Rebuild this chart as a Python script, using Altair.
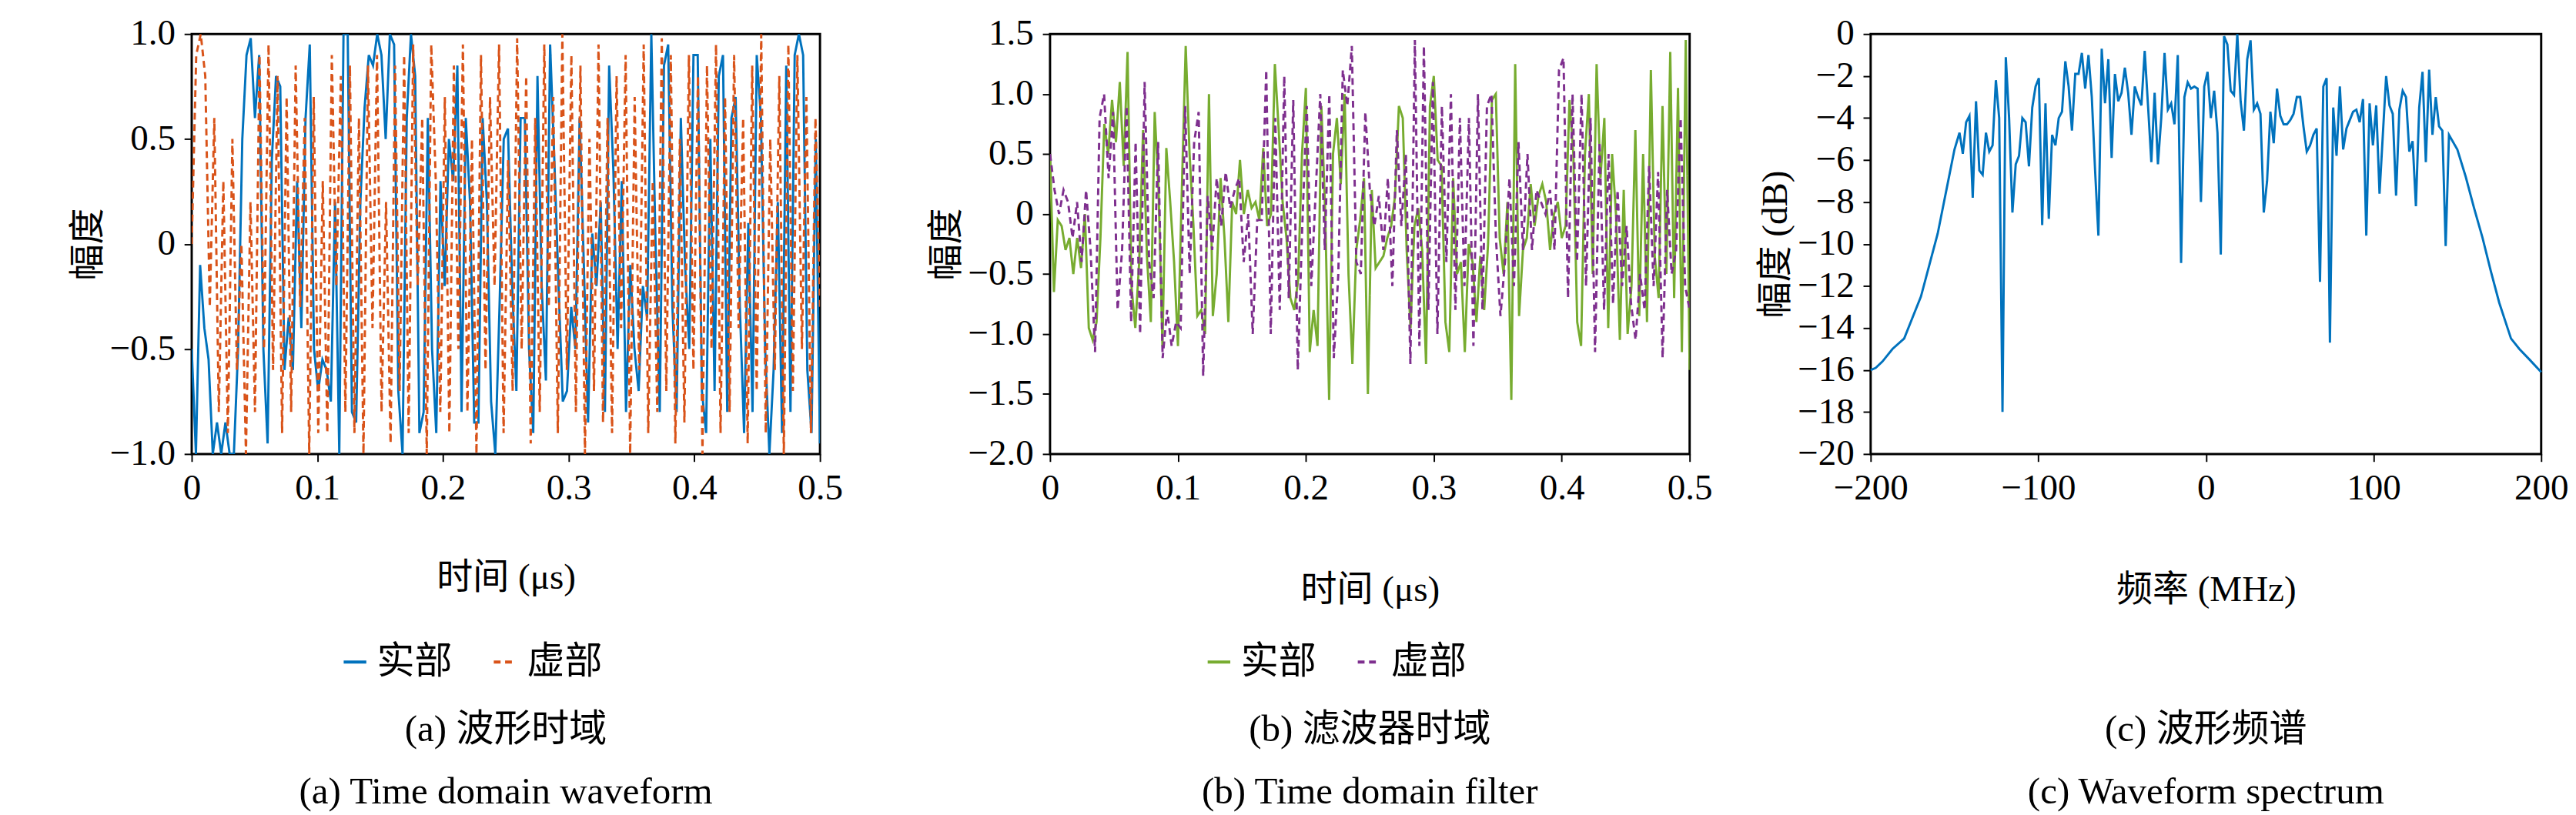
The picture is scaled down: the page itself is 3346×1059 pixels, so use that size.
import altair as alt
import numpy as np
import pandas as pd

# (a) waveform, time in microseconds
wave_real = [-0.5, -1.0, -0.1, -0.4, -0.55, -1.0, -0.85, -1.0, -0.85, -1.0, -1.0, -0.5, 0.5, 0.9, 0.98,
             0.6, 0.9, -0.5, -0.95, 0.4, 0.8, 0.75, -0.6, -0.35, -0.6, 0.3, -0.4, 0.6, 0.95, -0.5, -0.7,
             -0.55, -0.6, -0.75, 0.2, -1.0, 1.0, 1.0, -0.8, -0.85, 0.2, 0.65, 0.9, 0.85, 1.0, 0.9, 0.5,
             1.0, 0.95, -0.7, -1.0, 0.6, 1.0, 0.8, -0.9, -0.8, 0.6, -0.5, -0.9, 0.3, -0.2, 0.5, 0.3, 0.85,
             -0.8, 0.6, 0.2, -0.85, -0.85, 0.6, 0.2, -0.75, -1.0, -0.3, 0.5, 0.55, -0.2, -0.7, 0.6, 0.6,
             -0.5, -0.9, 0.8, -0.2, -0.65, 0.95, 0.4, -0.2, -0.75, -0.7, -0.3, -0.5, 0.6, -0.1, -0.85,
             0.05, -0.2, 0.2, -0.8, 0.85, 0.35, -0.5, 0.3, -0.8, -0.1, -0.5, -0.7, -0.2, -0.35, 1.0, 0.0,
             -0.8, 0.85, 0.95, -0.3, -0.8, 0.6, -0.1, -0.5, 0.9, 0.9, -0.7, -0.9, 0.5, -0.7, 0.8, 0.9,
             -0.8, 0.6, 0.7, -0.3, -0.9, 0.1, -0.8, 0.9, 0.6, -0.5, -1.0, -0.6, 0.2, -0.9, 0.85, -0.8,
             0.9, 1.0, 0.9, -0.6, -0.9, 0.5, -0.95]
wave_imag = [0.0, 0.9, 1.0, 0.8, -0.3, 0.6, -0.8, 0.3, -0.9, 0.5, -0.6, 0.0, -1.0, 0.2, -0.8, 0.9, -0.5,
             0.95, -0.6, 0.8, -0.9, 0.7, -0.8, 0.85, -0.3, 0.6, -1.0, 0.7, -0.9, 0.3, -0.9, 0.9, -0.2,
             0.8, -0.8, 0.85, -0.9, 0.6, -1.0, 0.85, -0.4, 0.9, -0.8, 0.2, -0.95, 0.85, -0.7, 0.9, -0.9,
             0.95, -0.2, 0.6, -1.0, 0.95, 0.3, -0.8, 0.7, -0.9, 0.85, -0.5, 0.95, -0.8, 0.5, -1.0, 0.9,
             -0.6, 0.7, -0.2, 0.95, -0.9, 0.4, -0.7, 0.98, -0.5, 0.8, -0.95, 0.6, -0.8, 0.95, -0.3, 0.7,
             -0.9, 1.0, -0.6, 0.9, -0.8, 0.85, -1.0, 0.5, -0.7, 0.95, -0.85, 0.6, -0.9, 0.8, -0.4, 0.9,
             -1.0, 0.7, -0.6, 0.95, -0.9, 0.3, -0.8, 0.98, -0.7, 0.9, -0.95, 0.5, -0.85, 0.9, -0.6, 0.8,
             -1.0, 0.85, -0.5, 0.95, -0.9, 0.7, -0.8, 0.9, -0.4, 0.6, -0.95, 0.85, -0.7, 1.0, -0.9, 0.5,
             -0.6, 0.8, -1.0, 0.95, -0.7, 0.9, -0.5, 0.7, -0.9, 0.6, -0.3]

# (b) filter
filt_real = [0.5, -0.65, -0.05, -0.1, -0.3, -0.2, -0.5, -0.2, -0.45, 0.0, -0.95, -1.05, -0.9, -0.2, 0.75,
             0.5, 0.95, 0.6, 1.1, 0.4, 1.35, -0.6, -0.95, -0.4, 0.7, -0.35, -0.9, 0.85, 0.2, -1.1, 0.55,
             0.1, -0.4, -1.1, 0.2, 1.4, 0.5, -0.1, -0.85, -0.8, -1.0, 1.0, -0.85, -0.5, 0.3, -0.2, -0.9,
             0.1, 0.0, 0.45, 0.0, 0.2, 0.05, 0.1, -0.05, 0.55, -0.1, 0.0, 1.25, 0.7, 0.1, -0.2, -0.7,
             -0.8, -0.55, 0.5, 1.05, -1.15, -0.8, -1.1, 0.9, 0.0, -1.55, 0.5, 0.8, 0.25, 1.0, -0.5, -1.25,
             -0.3, -0.05, 0.3, -1.5, 0.2, -0.45, -0.4, -0.35, -0.2, -0.1, 0.15, 0.9, 0.8, -0.3, -0.95,
             -0.1, 0.05, -0.3, -1.25, 0.9, 1.15, 0.45, 0.4, -0.9, -1.15, 0.3, -0.5, -0.4, -1.15, -0.25,
             -0.4, -0.9, -0.35, -0.8, -0.25, 0.95, 1.0, -0.2, -0.5, 0.1, -1.55, 1.25, -0.85, -0.3, -0.2,
             0.25, -0.1, 0.15, 0.25, 0.1, -0.3, 0.0, 0.1, -0.2, -0.1, 0.95, 0.5, -0.9, -1.1, 0.5, 1.0,
             -0.5, 1.25, 0.3, 0.8, -0.95, 0.5, 0.0, -1.05, 0.2, -1.0, -0.6, 0.7, -0.85, 0.5, -0.9, 1.2,
             -0.35, -0.7, 0.9, -0.5, 1.35, -0.7, 1.05, -1.15, 1.45, -1.3]
filt_imag = [0.5, 0.2, 0.0, 0.2, 0.1, -0.2, 0.1, -0.4, 0.2, -0.3, -1.15, 0.8, 1.0, 0.3, 0.85, -0.8, -0.3,
             0.9, -0.9, 0.6, -1.0, 1.1, -0.4, -0.7, 0.6, -1.2, -0.8, -1.1, -0.9, -0.95, 0.9, -0.5, 0.6,
             0.85, -1.35, 0.15, -0.3, 0.3, -0.1, 0.35, 0.05, 0.2, 0.3, -0.4, 0.0, -1.0, -0.05, -0.05, 1.2,
             -1.0, 0.8, -0.8, 1.15, -0.7, 0.95, -1.3, -0.1, 0.9, -0.6, 0.2, 1.0, -0.3, 1.0, -1.2, -0.5,
             1.2, 0.9, 1.4, -0.4, -0.5, 0.85, 0.2, -0.1, 0.15, -0.3, 0.3, -0.6, 0.7, -0.1, 0.5, -1.25,
             1.45, -1.1, 1.4, -0.8, 1.1, -1.0, 0.9, -0.4, 1.0, -0.8, 0.8, -0.6, 0.8, -1.1, 1.0, -0.8, 0.9,
             1.0, -0.2, -0.85, -0.4, 0.3, -0.6, 0.6, -0.3, 0.5, -0.3, 0.2, 0.1, 0.0, 0.2, -0.3, 1.2, 1.3,
             -0.7, 1.0, -0.4, 1.0, -0.6, 0.8, -1.15, 0.6, -0.8, 0.5, -0.75, 0.2, -0.6, -0.1, -0.75, -1.05,
             -0.5, -0.8, 0.4, -0.6, 0.35, -1.2, 0.2, -0.5, -0.3, 0.8, -0.6, -0.8]

# (c) spectrum in dB
spec_left_f = [-200, -197, -193, -187, -180, -175, -170, -165, -160, -155, -150]
spec_left_db = [-16, -15.9, -15.6, -15, -14.5, -13.5, -12.5, -11, -9.5, -7.5, -5.5]
spec_mid_db = [-4.7, -5.7, -4.2, -3.9, -7.8, -3.2, -6.5, -6.7, -4.7, -5.6, -5.3, -2.2, -4, -18, -1.1, -4,
               -8.5, -6.2, -5.8, -4, -4.2, -6.3, -3.5, -2.5, -2.1, -9.1, -3.3, -8.8, -4.8, -5.3, -4, -3.7,
               -1.3, -2.5, -4.6, -1.9, -1.9, -0.9, -2.6, -1.0, -3, -6.5, -9.6, -0.7, -3.3, -1.2, -5.9,
               -1.9, -3.2, -2.8, -1.6, -2.8, -4.8, -2.5, -3, -3.4, -0.8, -3.4, -6.1, -2.8, -6.2, -4, -0.9,
               -3.6, -3.3, -4.3, -1.0, -10.9, -3, -2.3, -2.6, -2.5, -2.6, -8, -2.5, -1.8, -4, -2.7, -4.7,
               -10.5, -0.1, -0.5, -2.7, -2.9, 0, -3.2, -4.6, -1.2, -0.3, -3.6, -3.3, -3.8, -8.5, -7, -3.7,
               -5.2, -2.6, -3.9, -4.3, -4.3, -4.1, -3.8, -3, -3, -4.4, -5.6, -5.3, -4.8, -4.5, -11.8, -2.5,
               -2.1, -14.7, -3.5, -5.8, -2.5, -5.5, -4.5, -4.1, -3.7, -3.6, -4.2, -3.1, -9.6, -3.3, -5.3,
               -3.4, -7.6, -4.8, -2.0, -3.4, -3.8, -7.7, -3.6, -2.7, -3.0, -5.6, -5.1, -8.2, -3.5, -1.8,
               -6.1, -1.7, -4.8, -3.0, -4.4, -4.6, -10.1, -4.8]
spec_right_f = [150, 155, 160, 165, 170, 175, 182, 187, 193, 200]
spec_right_db = [-5.5, -6.8, -8.3, -9.7, -11.3, -12.8, -14.5, -15, -15.5, -16.1]

captions = [["(a) 波形时域", "(a) Time domain waveform"],
            ["(b) 滤波器时域", "(b) Time domain filter"],
            ["(c) 波形频谱", "(c) Waveform spectrum"]]

FONT = "Liberation Serif, DejaVu Serif, serif"
TXT = "Liberation Serif, Noto Sans CJK SC, serif"
H = 557
NEG = "replace(datum.label, '-', '−')"


def caption_layer(lines, w):
    out = []
    for i, line in enumerate(lines):
        out.append(alt.Chart(pd.DataFrame({"c": [line]})).mark_text(
            font=TXT, fontSize=50, color="black", baseline="middle", align="center"
        ).encode(text="c:N", x=alt.value(w / 2), y=alt.value(923 + 83 * i)))
    return out


def series(vals, name):
    return pd.DataFrame({"t": np.linspace(0, 0.5, len(vals)), "v": vals, "s": name})


def time_panel(real, imag, colors, dom, ticks, caption, tpad, w):
    df = pd.concat([series(real, "实部"), series(imag, "虚部")])
    lines = alt.Chart(df).mark_line(strokeWidth=3, clip=True).encode(
        x=alt.X("t:Q", title="时间 (μs)", scale=alt.Scale(domain=[0, 0.5], nice=False),
                axis=alt.Axis(values=[0, 0.1, 0.2, 0.3, 0.4, 0.5], format="~g",
                              titlePadding=tpad)),
        y=alt.Y("v:Q", title="幅度", scale=alt.Scale(domain=dom, nice=False),
                axis=alt.Axis(values=ticks, format=".1f",
                              labelExpr="datum.value == 0 ? '0' : " + NEG)),
        color=alt.Color("s:N", scale=alt.Scale(domain=["实部", "虚部"], range=colors),
                        legend=alt.Legend(title=None, orient="none", direction="horizontal",
                                          legendX=w / 2 - 225, legendY=808,
                                          symbolType="stroke", symbolStrokeWidth=4, symbolSize=900,
                                          labelFontSize=50, labelFont=TXT, columnPadding=45)),
        strokeDash=alt.StrokeDash("s:N", scale=alt.Scale(domain=["实部", "虚部"], range=[[1, 0], [9, 6]]),
                                  legend=None),
        order="t:Q",
        detail="s:N",
    ).properties(width=w, height=H)
    return alt.layer(lines, *caption_layer(caption, w))


p1 = time_panel(wave_real, wave_imag, ["#0072BD", "#D95319"], [-1, 1],
                [-1, -0.5, 0, 0.5, 1], captions[0], 70, 833)
p2 = time_panel(filt_real, filt_imag, ["#77AC30", "#7E2F8E"], [-2, 1.5],
                [-2, -1.5, -1, -0.5, 0, 0.5, 1, 1.5], captions[1], 87, 848)

f = spec_left_f + list(np.linspace(-147, 145, len(spec_mid_db))) + spec_right_f
db = spec_left_db + spec_mid_db + spec_right_db
df3 = pd.DataFrame({"f": f, "db": db})
spec = alt.Chart(df3).mark_line(strokeWidth=3, color="#0072BD").encode(
    x=alt.X("f:Q", title="频率 (MHz)", scale=alt.Scale(domain=[-200, 200], nice=False),
            axis=alt.Axis(values=[-200, -100, 0, 100, 200], titlePadding=87, labelExpr=NEG)),
    y=alt.Y("db:Q", title="幅度 (dB)", scale=alt.Scale(domain=[-20, 0], nice=False),
            axis=alt.Axis(values=list(range(-20, 1, 2)), labelExpr=NEG)),
    order="f:Q",
).properties(width=889, height=H)
p3 = alt.layer(spec, *caption_layer(captions[2], 889))

left = alt.hconcat(p1, p2, spacing=110).resolve_scale(
    color="independent", strokeDash="independent", x="independent", y="independent"
).resolve_legend(color="independent")

chart = alt.hconcat(left, p3, spacing=57).resolve_scale(
    color="independent", strokeDash="independent", x="independent", y="independent"
).configure_view(
    stroke="black", strokeWidth=3
).configure_axis(
    grid=False, domain=False, labelFont=FONT, labelFontSize=48, labelColor="black", labelFlush=False,
    titleFont=TXT, titleFontSize=48, titleFontWeight="normal", titleColor="black",
    tickColor="black", tickSize=10, tickWidth=2, labelPadding=12,
).properties(padding={"left": 83, "top": 0, "right": 0, "bottom": 0})

chart.save("out.html", embed_options={"renderer": "svg", "actions": False})
